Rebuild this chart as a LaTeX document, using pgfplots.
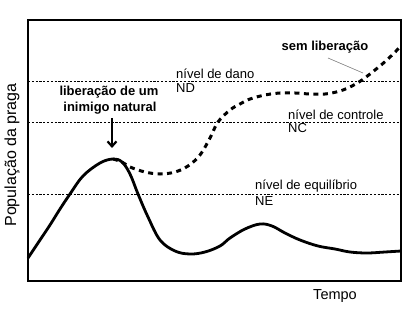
\documentclass[border=0pt]{standalone}
\usepackage{pgfplots}
\pgfplotsset{compat=1.18}
\usepackage{fontspec}
\setmainfont{Liberation Sans}
\usetikzlibrary{arrows.meta}
\begin{document}
\begin{tikzpicture}
\begin{axis}[
 scale only axis, width=373bp, height=261bp,
 xmin=28, xmax=401, ymin=-281, ymax=-20,
 hide axis,
 clip=false,
]
\draw[line width=1.3bp] (rel axis cs:0,0) rectangle (rel axis cs:1,1);
% reference levels
\addplot[black, line width=0.8bp, dash pattern=on 2.2bp off 1.6bp] coordinates {(28,-81) (401,-81)};
\addplot[black, line width=0.8bp, dash pattern=on 2.2bp off 1.6bp] coordinates {(28,-122) (401,-122)};
\addplot[black, line width=0.8bp, dash pattern=on 2.2bp off 1.6bp] coordinates {(28,-194) (401,-194)};
% without release
\addplot[black, line width=3bp, dash pattern=on 5bp off 4.5bp, smooth, tension=0.6] coordinates {
(113,-159) (122,-162) (130,-167) (145,-172) (160,-174) (175,-172) (188,-166) (200,-155) (210,-138) (218,-122) (230,-110) (240,-104) (250,-99) (265,-95) (280,-93) (295,-93) (310,-94) (325,-94) (340,-91) (352,-86) (362,-80) (375,-70) (388,-59) (401,-46)};
% with release
\addplot[black, line width=2.8bp, smooth, tension=0.6] coordinates {
(28,-258) (40,-240) (50,-225) (60,-209) (70,-194) (83,-176) (100,-163) (113,-159) (122,-162) (130,-174) (138,-194) (148,-217) (160,-240) (175,-251) (190,-254) (205,-252) (220,-246) (230,-238) (245,-229) (260,-224) (272,-226) (285,-233) (300,-240) (318,-246) (335,-249) (350,-252) (367,-253) (385,-252) (401,-251)};
% labels
\node[anchor=base west, font=\fontsize{13bp}{15bp}\selectfont, inner sep=0pt] at (axis cs:176,-79) {nível de dano};
\node[anchor=base west, font=\fontsize{13bp}{15bp}\selectfont, inner sep=0pt] at (axis cs:176,-93) {ND};
\node[anchor=base west, font=\fontsize{13bp}{15bp}\selectfont, inner sep=0pt] at (axis cs:288,-120) {nível de controle};
\node[anchor=base west, font=\fontsize{13bp}{15bp}\selectfont, inner sep=0pt] at (axis cs:288,-133) {NC};
\node[anchor=base west, font=\fontsize{13bp}{15bp}\selectfont, inner sep=0pt] at (axis cs:255,-190) {nível de equilíbrio};
\node[anchor=base west, font=\fontsize{13bp}{15bp}\selectfont, inner sep=0pt] at (axis cs:255,-206) {NE};
\node[anchor=base, font=\bfseries\fontsize{13bp}{15bp}\selectfont, inner sep=0pt] at (axis cs:109,-96) {liberação de um};
\node[anchor=base, font=\bfseries\fontsize{13bp}{15bp}\selectfont, inner sep=0pt] at (axis cs:110,-112) {inimigo natural};
\node[anchor=base, font=\bfseries\fontsize{13bp}{15bp}\selectfont, inner sep=0pt] at (axis cs:325,-51) {sem liberação};
\draw[gray, line width=0.6bp] (axis cs:328,-58) -- (axis cs:363,-73);
\draw[line width=2.2bp, -{Straight Barb[length=5bp, width=9bp]}] (axis cs:112,-118) -- (axis cs:112,-148);
\node[rotate=90, font=\fontsize{16bp}{18bp}\selectfont, inner sep=0pt] at (axis cs:12,-155) {População da praga};
\node[font=\fontsize{14.5bp}{16bp}\selectfont, inner sep=0pt] at (axis cs:335,-296) {Tempo};
\coordinate (bl) at (axis cs:0,-314);
\coordinate (tr) at (axis cs:405,0);
\end{axis}
\pgfresetboundingbox
\useasboundingbox (bl) rectangle (tr);
\end{tikzpicture}
\end{document}
